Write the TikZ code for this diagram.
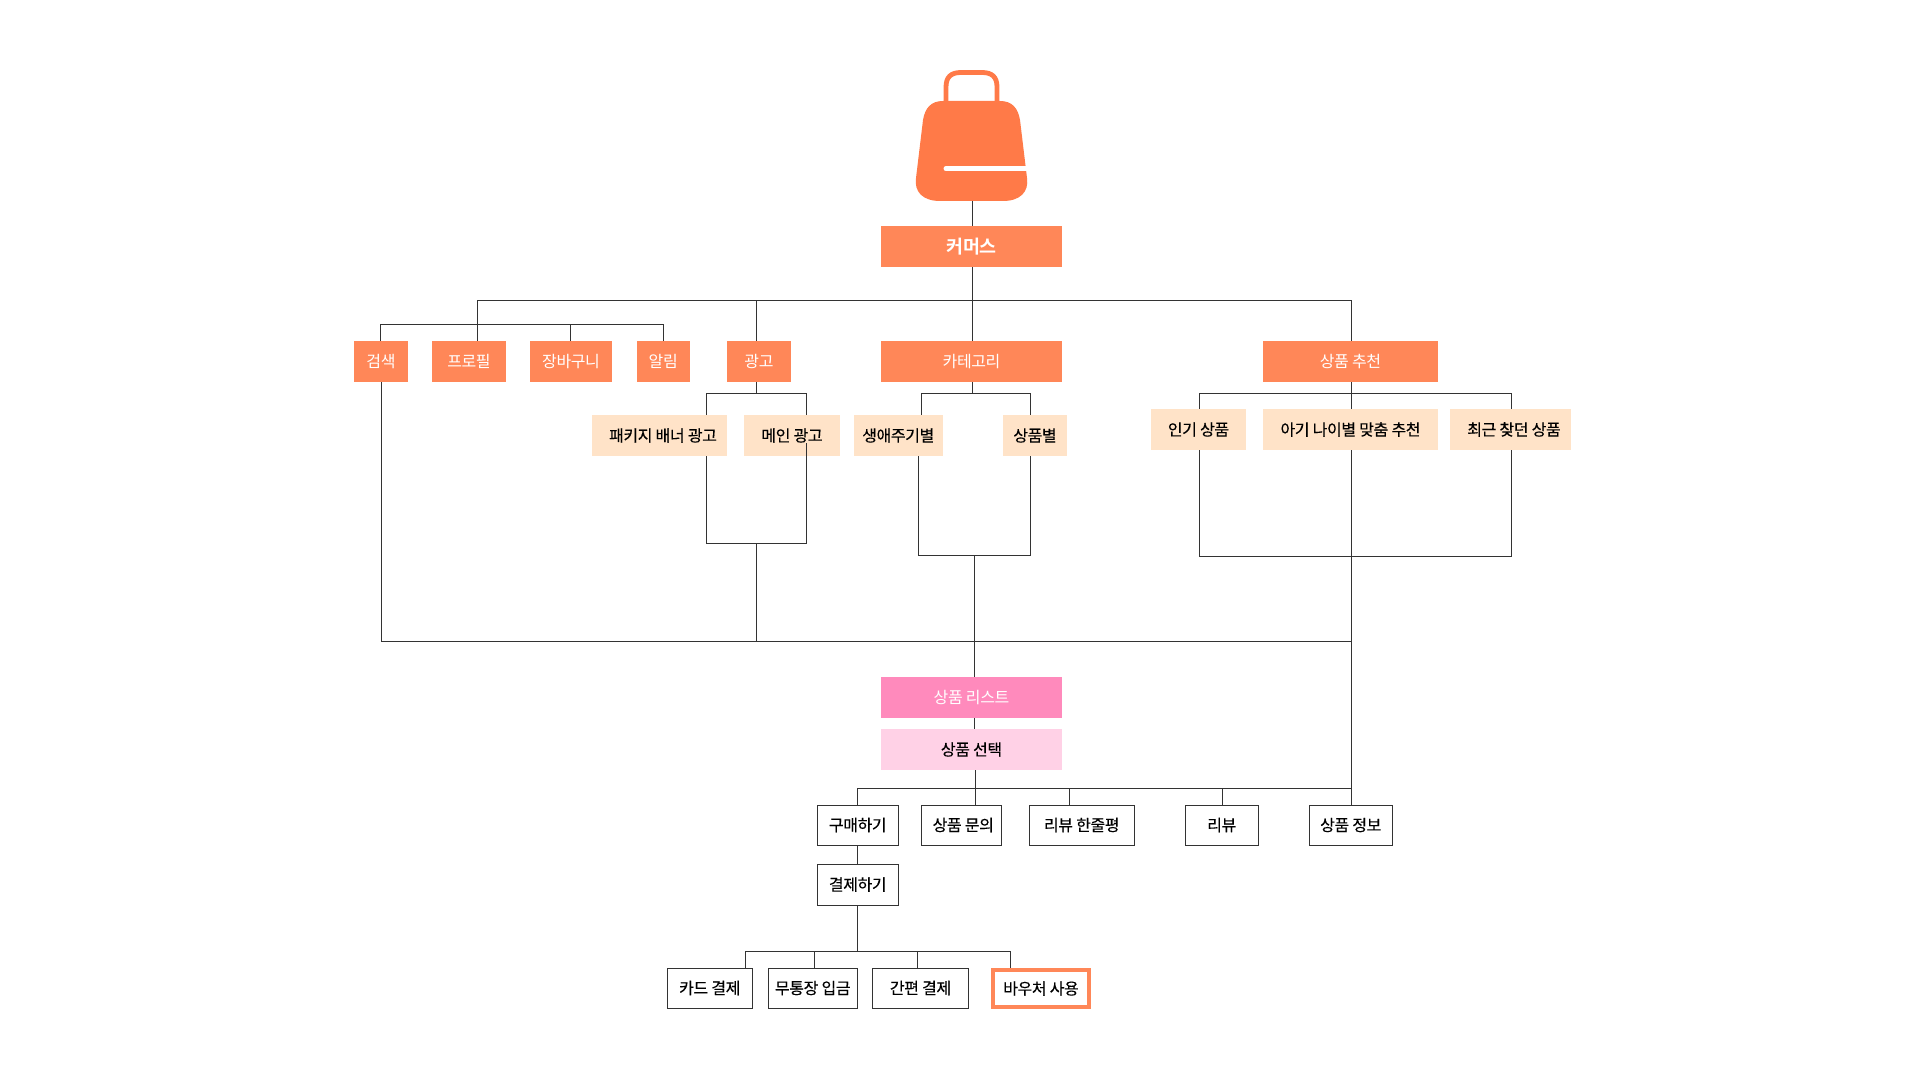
\documentclass[tikz,border=0pt]{standalone}
\usepackage{fontspec}
\newfontfamily\krfont{Noto Sans CJK KR}[BoldFont={Noto Sans CJK KR Bold},LetterSpace=-2.5]
\newfontfamily\krdark{Noto Sans CJK KR}[FakeBold=0.25,LetterSpace=-2.5]
\usetikzlibrary{calc}
\definecolor{orangebox}{HTML}{FF8758}
\definecolor{bagcol}{HTML}{FF7A48}
\definecolor{peachbox}{HTML}{FFE3C8}
\definecolor{pinkbox}{HTML}{FF8ABC}
\definecolor{lightpink}{HTML}{FFD1E6}
\definecolor{wire}{HTML}{333333}
\tikzset{
  base/.style={rectangle,inner sep=0pt,font=\krfont\fontsize{8pt}{9pt}\selectfont},
  dark/.style={base,font=\krdark\fontsize{8pt}{9pt}\selectfont},
  orangeb/.style={base,fill=orangebox,text=white},
  peachb/.style={dark,fill=peachbox,text=black},
  pinkb/.style={base,fill=pinkbox,text=white},
  lpinkb/.style={dark,fill=lightpink,text=black},
  whiteb/.style={dark,draw=wire,line width=0.5pt,fill=white,text=black},
  voucher/.style={dark,draw=orangebox,line width=2.2pt,fill=white,text=black},
  wirel/.style={draw=wire,line width=0.5pt,line cap=butt}
}
% name, x1, y1, x2, y2, style, text
\newcommand{\pxbox}[7]{\node[#6,minimum width={(#4-#2)*0.5pt},minimum height={(#5-#3)*0.5pt}] (#1) at ({(#2+#4)/2},{(#3+#5)/2}) {#7};}
\begin{document}
\begin{tikzpicture}[x=0.5pt,y=-0.5pt]
\useasboundingbox (0,0) rectangle (1920,1080);
\fill[white] (0,0) rectangle (1920,1080);
% bag
\draw[bagcol,line width=2.4pt] (946,103) -- (946,87) .. controls (946,77) and (951,72.5) .. (961,72.5) -- (982,72.5) .. controls (992,72.5) and (997,77) .. (997,87) -- (997,103);
\fill[bagcol] (943,101) -- (1000,101) .. controls (1012,101) and (1018,108) .. (1020,120) -- (1027,178) .. controls (1029,192) and (1020,201) .. (1003,201) -- (940,201) .. controls (923,201) and (914,192) .. (916,178) -- (923,120) .. controls (925,108) and (931,101) .. (943,101) -- cycle;
\draw[white,line width=2.5pt,line cap=round] (946,168.8) -- (1030,168.8);
\coordinate (bagbottom) at (972,201);
% nodes
\pxbox{main}{881}{226}{1062}{267}{orangeb}{\bfseries\fontsize{9.2pt}{10pt}\selectfont 커머스}
\pxbox{search}{354}{341}{408}{382}{orangeb}{검색}
\pxbox{profile}{432}{341}{506}{382}{orangeb}{프로필}
\pxbox{cart}{530}{341}{612}{382}{orangeb}{장바구니}
\pxbox{notice}{636.5}{341}{690}{382}{orangeb}{알림}
\pxbox{ad}{727}{341}{791}{382}{orangeb}{광고}
\pxbox{category}{881}{341}{1062}{382}{orangeb}{카테고리}
\pxbox{recom}{1263}{341}{1438}{382}{orangeb}{상품 추천}
\pxbox{pkg}{592}{415}{727}{456}{peachb}{\hspace{3.5pt}패키지 배너 광고}
\pxbox{mainad}{744}{415}{840}{456}{peachb}{메인 광고}
\pxbox{life}{854}{415}{942.5}{456}{peachb}{생애주기별}
\pxbox{byprod}{1003}{415}{1067}{456}{peachb}{상품별}
\pxbox{popular}{1151}{409}{1246}{450}{peachb}{인기 상품}
\pxbox{age}{1263}{409}{1438}{450}{peachb}{아기 나이별 맞춤 추천}
\pxbox{recent}{1450}{409}{1571}{450}{peachb}{\hspace{3.5pt}최근 찾던 상품}
\pxbox{list}{881}{677}{1062}{718}{pinkb}{상품 리스트}
\pxbox{select}{881}{729}{1062}{770}{lpinkb}{상품 선택}
\pxbox{buy}{817}{805}{898.5}{845}{whiteb}{구매하기}
\pxbox{ask}{921}{805}{1001.5}{845}{whiteb}{\hspace{2pt}상품 문의}
\pxbox{short}{1029}{805}{1134.5}{845}{whiteb}{리뷰 한줄평}
\pxbox{review}{1185.5}{805}{1258}{845}{whiteb}{리뷰}
\pxbox{info}{1309}{805}{1392.5}{845}{whiteb}{상품 정보}
\pxbox{pay}{817}{864}{898.5}{905}{whiteb}{결제하기}
\pxbox{card}{667}{968}{752.5}{1008}{whiteb}{카드 결제}
\pxbox{bank}{768}{968}{857.5}{1008}{whiteb}{무통장 입금}
\pxbox{easy}{872.5}{968}{968.5}{1008}{whiteb}{간편 결제\hspace{4pt}}
\pxbox{vouch}{993}{970}{1089}{1007}{voucher}{바우처 사용}
% junction coordinates
\coordinate (tb1) at (477,300.5);
\coordinate (tb2) at (756.5,300.5);
\coordinate (tb3) at (972.5,300.5);
\coordinate (tb4) at (1351,300.5);
\coordinate (sb1) at (380.5,324.5);
\coordinate (sb2) at (477,324.5);
\coordinate (sb3) at (570.5,324.5);
\coordinate (sb4) at (663,324.5);
\coordinate (adb) at (756.5,393);
\coordinate (adl) at (706,393);
\coordinate (adr) at (806.5,393);
\coordinate (adll) at (706,543);
\coordinate (adlr) at (806.5,543);
\coordinate (adlc) at (756.5,543);
\coordinate (adrs) at (806.5,443);
\coordinate (catb) at (972.5,393);
\coordinate (catl) at (921,393);
\coordinate (catr) at (1030,393);
\coordinate (catll) at (918,555);
\coordinate (catlr) at (1030,555);
\coordinate (catlc) at (974,555);
\coordinate (recb) at (1351,393);
\coordinate (recl) at (1199,393);
\coordinate (recr) at (1511,393);
\coordinate (recll) at (1199,556);
\coordinate (reclr) at (1511,556);
\coordinate (mb1) at (381.5,641);
\coordinate (mb2) at (756.5,641);
\coordinate (mb3) at (1351,641);
\coordinate (pb1) at (857.5,788);
\coordinate (pb2) at (975.5,788);
\coordinate (pb3) at (1069,788);
\coordinate (pb4) at (1222,788);
\coordinate (pb5) at (1351,788);
\coordinate (qb1) at (745,951);
\coordinate (qb2) at (814,951);
\coordinate (qb3) at (857.5,951);
\coordinate (qb4) at (917,951);
\coordinate (qb5) at (1010,951);
% connectors
\begin{scope}[wirel]
\draw (bagbottom) -- (bagbottom |- main.north);
\draw (tb3 |- main.south) -- (tb3);
\draw (tb1) -- (tb4) -- (tb4 |- recom.north);
\draw (tb1) -- (tb1 |- profile.north);
\draw (tb2) -- (tb2 |- ad.north);
\draw (tb3) -- (tb3 |- category.north);
\draw (sb1) -- (sb4) -- (sb4 |- notice.north);
\draw (sb1) -- (sb1 |- search.north);
\draw (sb3) -- (sb3 |- cart.north);
\draw (adb |- ad.south) -- (adb);
\draw (adl |- pkg.north) -- (adl) -- (adr) -- (adr |- mainad.north);
\draw (adl |- pkg.south) -- (adll) -- (adlr) -- (adrs);
\draw (adlc) -- (mb2);
\draw (catb |- category.south) -- (catb);
\draw (catl |- life.north) -- (catl) -- (catr) -- (catr |- byprod.north);
\draw (catll |- life.south) -- (catll) -- (catlr) -- (catlr |- byprod.south);
\draw (catlc) -- (catlc |- list.north);
\draw (recb |- recom.south) -- (recb |- age.north);
\draw (recl |- popular.north) -- (recl) -- (recr) -- (recr |- recent.north);
\draw (recl |- popular.south) -- (recll) -- (reclr) -- (recr |- recent.south);
\draw (recb |- age.south) -- (recb |- info.north);
\draw (mb1 |- search.south) -- (mb1) -- (mb3);
\draw (catlc |- list.south) -- (catlc |- select.north);
\draw (pb2 |- select.south) -- (pb2 |- ask.north);
\draw (pb1) -- (pb5);
\draw (pb1) -- (pb1 |- buy.north);
\draw (pb3) -- (pb3 |- short.north);
\draw (pb4) -- (pb4 |- review.north);
\draw (pb1 |- buy.south) -- (pb1 |- pay.north);
\draw (qb3 |- pay.south) -- (qb3);
\draw (qb1) -- (qb5);
\draw (qb1) -- (qb1 |- card.north);
\draw (qb2) -- (qb2 |- bank.north);
\draw (qb4) -- (qb4 |- easy.north);
\draw (qb5) -- (qb5 |- vouch.north);
\end{scope}
\end{tikzpicture}
\end{document}
